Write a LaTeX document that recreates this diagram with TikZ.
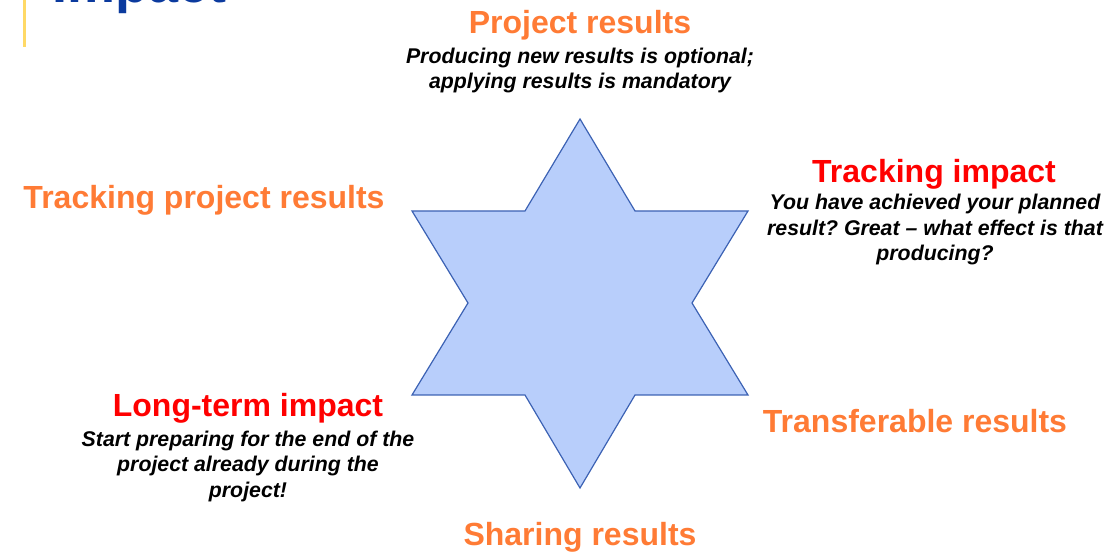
\documentclass[tikz,border=0pt]{standalone}
\usepackage{fontspec}
\setmainfont{Liberation Sans}
\frenchspacing
\definecolor{hdorange}{HTML}{FF7B35}
\definecolor{hdred}{HTML}{FF0000}
\definecolor{starfill}{HTML}{B8CEFB}
\definecolor{starline}{HTML}{3C62B4}
\definecolor{titleblue}{HTML}{0B3A9E}
\definecolor{baryellow}{HTML}{FFD966}
\tikzset{
  head/.style={anchor=base, inner sep=0pt, font=\fontsize{32}{36}\selectfont\bfseries},
  orangehead/.style={head, text=hdorange},
  redhead/.style={head, text=hdred},
  body/.style={anchor=base, inner sep=0pt, align=center, font=\fontsize{21.3}{25.5}\selectfont\bfseries\itshape},
  starshape/.style={fill=starfill, draw=starline, line width=1.2pt, line join=miter}
}
\begin{document}
\begin{tikzpicture}[x=1pt,y=-1pt]
\useasboundingbox (0,0) rectangle (1117,553);
\begin{scope}
\clip (0,0) rectangle (1117,553);
\node[anchor=base west, inner sep=0pt, text=titleblue, font=\fontsize{54}{58}\selectfont\bfseries] (title) at (52,3) {Impact};
\end{scope}
\fill[baryellow] (23,0) rectangle (26,47);
\draw[starshape] (580,119) -- (635,211) -- (748,211) -- (692,303) -- (748,395) -- (635,395)
  -- (580,488) -- (525,395) -- (412,395) -- (468,303) -- (412,211) -- (525,211) -- cycle;
\node[orangehead] (pr) at (580,34) {Project results};
\node[body] (prb) at (580,89) {Producing new results is optional;\\applying results is mandatory};
\node[orangehead] (tpr) at (204,209) {Tracking project results};
\node[redhead] (ti) at (934,183) {Tracking impact};
\node[body] (tib) at (935,261) {You have achieved your planned\\result? Great -- what effect is that\\producing?};
\node[orangehead] (tr) at (915,432) {Transferable results};
\node[redhead] (lti) at (248,416) {Long-term impact};
\node[body] (ltib) at (248,497) {Start preparing for the end of the\\project already during the\\project!};
\node[orangehead] (sr) at (580,545) {Sharing results};
\end{tikzpicture}
\end{document}
